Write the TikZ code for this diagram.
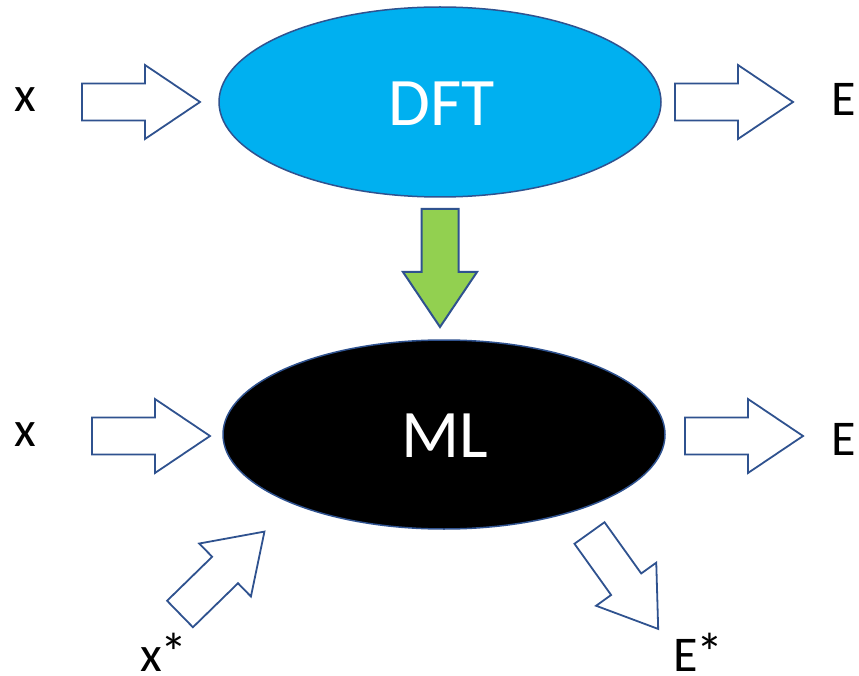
\documentclass[tikz,border=0pt]{standalone}
\usepackage{fontspec}
\setmainfont{Carlito}
\usetikzlibrary{shapes.geometric}

\definecolor{edgeblue}{HTML}{2F528F}
\definecolor{dftblue}{HTML}{00B0F0}
\definecolor{arrowgreen}{HTML}{92D050}

\newcommand{\starmark}{{\fontsize{54}{60}\selectfont *}}

\tikzset{
  % block arrow with its tail centred at the origin, pointing along +x
  blockarrow/.pic={
    \draw[pic actions]
      (0,-18.5) -- (63,-18.5) -- (63,-37) -- (118,0) --
      (63,37) -- (63,18.5) -- (0,18.5) -- cycle;
  },
  hollow/.style={draw=edgeblue, line width=1.8pt, fill=white, line join=miter},
  solidgreen/.style={draw=edgeblue, line width=2pt, fill=arrowgreen, line join=miter},
  blob/.style={ellipse, draw=edgeblue, line width=1.5pt, inner sep=0pt,
    minimum width=442pt, minimum height=189pt},
  blobtext/.style={text=white, inner sep=0pt, font=\fontsize{68}{80}\selectfont},
  lbl/.style={inner sep=0pt, text=black, font=\fontsize{50}{60}\selectfont},
}

\begin{document}
\begin{tikzpicture}[x=1pt, y=-1pt]
  \useasboundingbox (0,0) rectangle (859,676);

  % the two models
  \node[blob, fill=dftblue, minimum height=190pt] (dft) at (440,102) {};
  \node[blobtext] (dfttext) at (442,104) {DFT};
  \node[blob, fill=black] (ml) at (444,434.5) {};
  \node[blobtext] (mltext) at (445,435.5) {ML};

  % inputs and outputs
  \node[lbl] (xtop) at (25,99.5) {x};
  \node[lbl] (etop) at (844,99.5) {E};
  \node[lbl] (xbot) at (25,435) {x};
  \node[lbl] (ebot) at (844,439.5) {E};
  \node[lbl, anchor=base west] (xstar) at (140,671) {x\kern-1pt\starmark};
  \node[lbl, anchor=base west] (estar) at (673,671) {E\kern-1pt\starmark};

  % block arrows
  \pic[hollow] at (82,102) {blockarrow};
  \pic[hollow] at (675,102) {blockarrow};
  \pic[hollow] at (92,436) {blockarrow};
  \pic[hollow] at (685,436) {blockarrow};
  \pic[solidgreen, rotate=-90] at (440,209) {blockarrow};
  \pic[hollow, rotate=44.3] at (180,614) {blockarrow};
  \pic[hollow, rotate=-54.4] at (589.5,533) {blockarrow};
\end{tikzpicture}
\end{document}
